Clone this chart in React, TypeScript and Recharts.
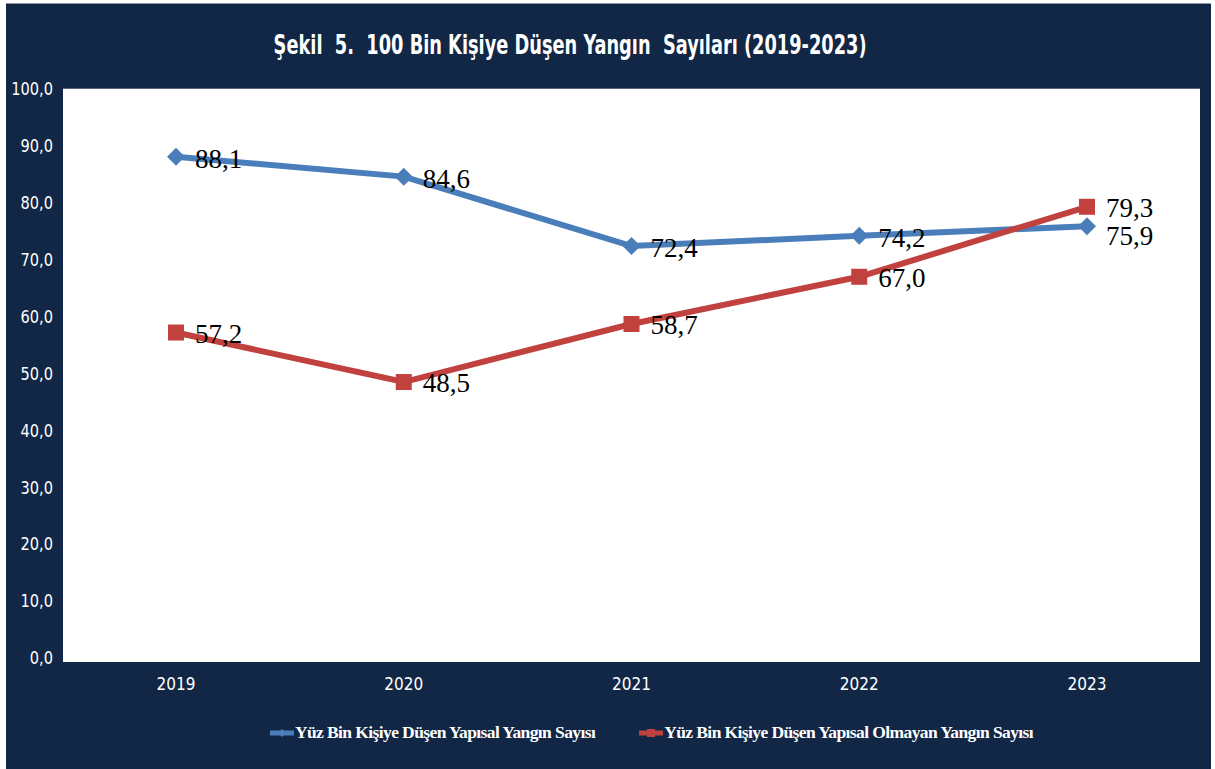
import React from "react";
import { LineChart, Line, XAxis, YAxis, CartesianGrid, Legend, LabelList } from "recharts";

const years = ["2019", "2020", "2021", "2022", "2023"];
const structural = [88.1, 84.6, 72.4, 74.2, 75.9];
const nonStructural = [57.2, 48.5, 58.7, 67.0, 79.3];
const yTicks = [0, 10, 20, 30, 40, 50, 60, 70, 80, 90, 100];

const SERIES_A = "Yüz Bin Kişiye Düşen Yapısal Yangın Sayısı";
const SERIES_B = "Yüz Bin Kişiye Düşen Yapısal Olmayan Yangın Sayısı";
const TITLE = "Şekil  5.  100 Bin Kişiye Düşen Yangın  Sayıları (2019-2023)";

const data = years.map((y, i) => ({ year: y, a: structural[i], b: nonStructural[i] }));

const BLUE = "#4a7ebb";
const RED = "#c0413d";
const NAVY = "#112745";
const NARROW = "'DejaVu Sans Condensed', 'DejaVu Sans', sans-serif";

const fmt = (v: number) => v.toFixed(1).replace(".", ",");

const Diamond = (props: any) => {
  const { cx, cy } = props;
  if (cx == null || cy == null) return null;
  const r = 9;
  return <path d={`M${cx - r},${cy} L${cx},${cy - r} L${cx + r},${cy} L${cx},${cy + r} Z`} fill={BLUE} />;
};

const Square = (props: any) => {
  const { cx, cy } = props;
  if (cx == null || cy == null) return null;
  const s = 8;
  return <rect x={cx - s} y={cy - s} width={2 * s} height={2 * s} fill={RED} />;
};

const makeLabel = (dyFor: (i: number) => number) => (props: any) => {
  const { x, y, value, index } = props;
  return (
    <text
      x={x + 19}
      y={y + dyFor(index)}
      dominantBaseline="central"
      fontFamily="'Liberation Serif', serif"
      fontSize={27}
      fill="#000"
    >
      {fmt(value)}
    </text>
  );
};

const labelA = makeLabel((i) => (i === 4 ? 10 : 2));
const labelB = makeLabel(() => 1);

const YTick = (props: any) => {
  const { x, y, payload } = props;
  return (
    <text x={x - 2} y={y} textAnchor="end" dominantBaseline="central" fill="#fff"
      fontFamily={NARROW} fontSize={18} transform={`translate(${x - 2},0) scale(0.9,1) translate(${-(x - 2)},0)`}>
      {fmt(payload.value)}
    </text>
  );
};

const XTick = (props: any) => {
  const { x, y, payload } = props;
  return (
    <text x={x} y={y + 24} textAnchor="middle" fill="#fff"
      fontFamily={NARROW} fontSize={17}>
      {payload.value}
    </text>
  );
};

const LegendContent = () => {
  const items = [
    { name: SERIES_A, color: BLUE, shape: "d" },
    { name: SERIES_B, color: RED, shape: "s" },
  ];
  return (
    <div style={{ display: "flex", justifyContent: "center", gap: 44, alignItems: "center", paddingLeft: 90 }}>
      {items.map((it) => (
        <div key={it.name} style={{ display: "flex", alignItems: "center" }}>
          <svg width={24} height={12}>
            <line x1={0} y1={6} x2={24} y2={6} stroke={it.color} strokeWidth={5} />
            {it.shape === "d" ? (
              <path d="M12,2 L16,6 L12,10 L8,6 Z" fill={it.color} />
            ) : (
              <rect x={8} y={2} width={8} height={8} fill={it.color} />
            )}
          </svg>
          <span style={{ color: "#fff", fontFamily: "'Liberation Serif', serif", fontSize: 17.5, fontWeight: "bold", marginLeft: 1, letterSpacing: -0.6 }}>
            {it.name}
          </span>
        </div>
      ))}
    </div>
  );
};

export default function App() {
  return (
    <div style={{ position: "absolute", left: 0, top: 0, width: 1215, height: 769, background: "#fff" }}>
      <div style={{ position: "absolute", left: 6, top: 3, width: 1205, height: 766, background: NAVY, borderTop: "1px solid #8a96a8" }}>
        <div style={{ position: "absolute", left: 0, top: 26, width: 1128, textAlign: "center" }}>
          <span style={{
            display: "inline-block", color: "#fff", transform: "scaleX(0.76)", whiteSpace: "pre",
            fontFamily: NARROW, fontWeight: "bold", fontSize: 26,
          }}>
            {TITLE}
          </span>
        </div>
        <LineChart width={1205} height={765} data={data} margin={{ top: 85, right: 11, bottom: 60, left: 7 }}>
          <rect x={57} y={85} width={1137} height={573} fill="#fff" />
          <CartesianGrid horizontal vertical={false} stroke="#a6a6a6" strokeWidth={1.2} />
          <XAxis dataKey="year" axisLine={false} tickLine={false} padding={{ left: 113, right: 113 }} tick={<XTick />} height={30} />
          <YAxis domain={[0, 100]} ticks={yTicks} axisLine={false} tickLine={false} width={50} tick={<YTick />} />
          <Legend verticalAlign="bottom" content={<LegendContent />} wrapperStyle={{ bottom: 26 }} />
          <Line dataKey="a" name={SERIES_A} stroke={BLUE} strokeWidth={6} dot={<Diamond />} activeDot={false} isAnimationActive={false}>
            <LabelList dataKey="a" content={labelA} />
          </Line>
          <Line dataKey="b" name={SERIES_B} stroke={RED} strokeWidth={6} dot={<Square />} activeDot={false} isAnimationActive={false}>
            <LabelList dataKey="b" content={labelB} />
          </Line>
        </LineChart>
      </div>
    </div>
  );
}
